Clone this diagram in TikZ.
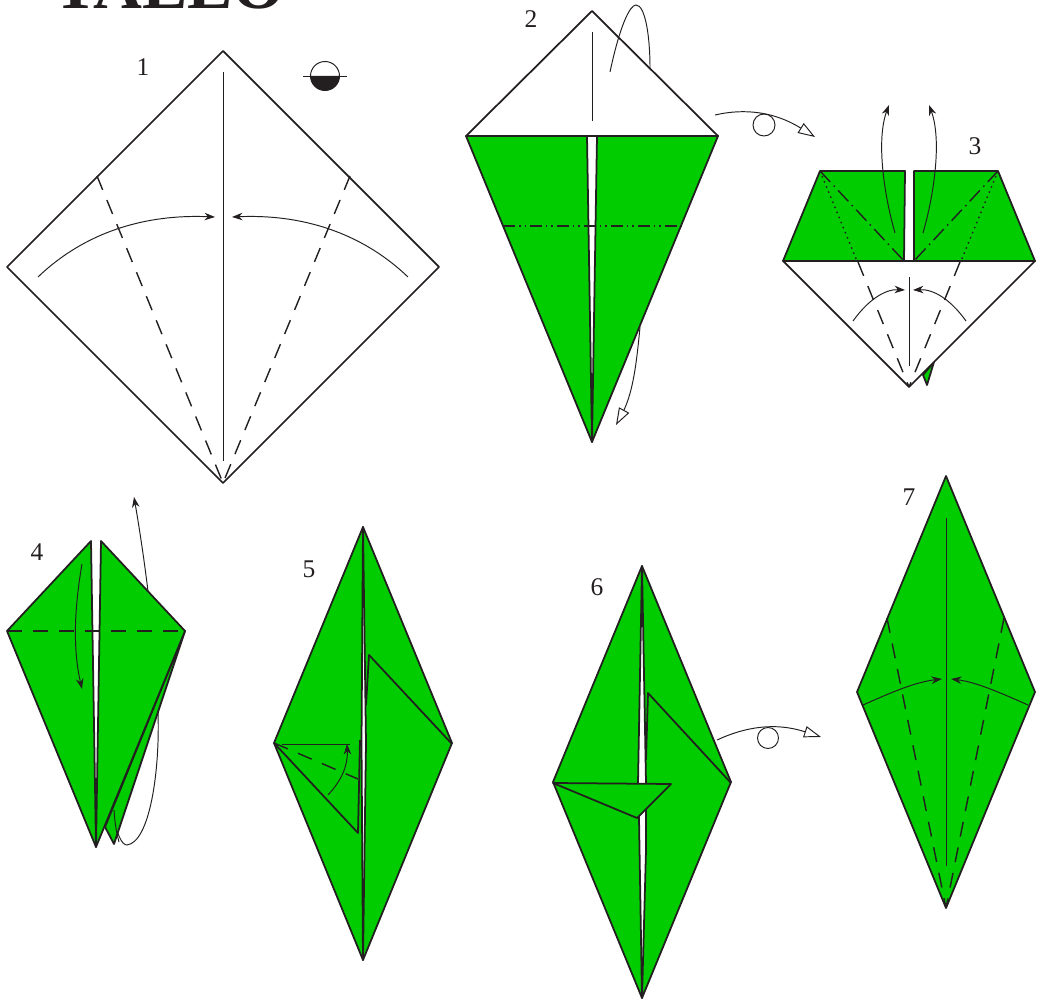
\documentclass[tikz,border=0pt]{standalone}
\usepackage{fontspec}
\setmainfont{Liberation Serif}
\usetikzlibrary{arrows.meta}
\definecolor{FoldGreen}{HTML}{00CC00}
\definecolor{Ink}{HTML}{231F20}
\tikzset{
  sheet/.style={draw=Ink, line width=1pt, line join=round, fill=white},
  flap/.style={draw=Ink, line width=1pt, line join=round, fill=FoldGreen},
  edge/.style={draw=Ink, line width=1pt, line join=round},
  thin line/.style={draw=Ink, line width=0.55pt},
  valley/.style={draw=Ink, line width=0.8pt, dash pattern=on 0.3cm off 0.22cm},
  mountain/.style={draw=Ink, line width=0.8pt, dash pattern=on 0.3cm off 0.1cm on 0.03cm off 0.1cm},
  mountaintwo/.style={draw=Ink, line width=0.8pt, dash pattern=on 0.24cm off 0.08cm on 0.03cm off 0.08cm on 0.03cm off 0.08cm},
  dots/.style={draw=Ink, line width=0.8pt, dash pattern=on 0.03cm off 0.08cm},
  foldarrow/.style={-{Stealth[length=2.1mm, width=1.5mm]}, thin line},
  turnarrow/.style={-{Triangle[open, fill=white, length=3.4mm, width=2.3mm]}, thin line},
  steplab/.style={font=\fontsize{14.5}{16}\selectfont, text=Ink, inner sep=0pt},
}

\begin{document}
\begin{tikzpicture}[x=0.02cm, y=-0.02cm]
    \useasboundingbox (0,0) rectangle (1038,999);
    \node[font=\fontsize{38.5}{42}\selectfont\bfseries, text=Ink, anchor=base, inner sep=0pt] (title) at (169.5,9) {TALLO};
    % step 1
    \draw[sheet] (223,51) -- (439,267) -- (223,483) -- (7,267) -- cycle;
    \draw[thin line] (223,72) -- (223,461);
    \draw[valley] (97,176) -- (223,483);
    \draw[valley] (350,176) -- (223,483);
    \draw[foldarrow] (38,277) .. controls (85,232) and (145,214) .. (215,217);
    \draw[foldarrow] (408,277) .. controls (361,232) and (301,214) .. (232,217);
    \node[steplab] (lab1) at (143,67) {1};
    \fill[Ink] (310.5,76) arc (180:0:14.5) -- cycle;
    \draw[thin line] (325,76) circle (14.5);
    \draw[thin line] (303,76) -- (347,76);
    % step 2
    \draw[turnarrow] (640,327) .. controls (636,370) and (632,395) .. (622,414) -- (616,425);
    \draw[sheet] (466,136) -- (592,11) -- (718,136) -- cycle;
    \draw[flap] (466,136) -- (587,136) -- (592,442) -- cycle;
    \draw[flap] (718,136) -- (597,136) -- (592,442) -- cycle;
    \draw[thin line] (592,32) -- (592,121);
    \draw[mountaintwo] (503,226) -- (682,226);
    \draw[thin line] (610,72) .. controls (620,25) and (630,5) .. (636,5) .. controls (645,5) and (650,35) .. (650,68);
    \draw[turnarrow] (715,115) .. controls (745,108) and (775,112) .. (815,137);
    \draw[thin line] (764,125) circle (11);
    \node[steplab] (lab2) at (531,19) {2};
    % step 3
    \draw[flap] (934,362) -- (923,375) -- (927,385) -- cycle;
    \draw[sheet] (783,261) -- (1035,261) -- (909,387) -- cycle;
    \draw[flap] (820,171) -- (905,171) -- (904,261) -- (783,261) -- cycle;
    \draw[flap] (998,171) -- (914,171) -- (914,261) -- (1035,261) -- cycle;
    \draw[thin line] (909,277) -- (909,366);
    \draw[mountain] (820,171) -- (904,261);
    \draw[mountain] (998,171) -- (914,261);
    \draw[dots] (820,171) -- (857,261);
    \draw[dots] (998,171) -- (961,261);
    \draw[valley] (858,262) -- (909,387);
    \draw[valley] (960,262) -- (909,387);
    \draw[foldarrow] (895,233) .. controls (884,195) and (876,140) .. (889,105);
    \draw[foldarrow] (923,233) .. controls (934,195) and (942,140) .. (929,105);
    \draw[foldarrow] (853,321) .. controls (868,300) and (885,289) .. (905,290);
    \draw[foldarrow] (966,321) .. controls (951,300) and (934,289) .. (913,290);
    \node[steplab] (lab3) at (975,146) {3};
    % step 4
    \draw[foldarrow] (114,810) .. controls (116,835) and (122,845) .. (127,845) .. controls (150,842) and (160,770) .. (158,713) .. controls (157,670) and (150,590) .. (134,497);
    \draw[flap] (185,631) -- (114,844) -- (105,827) -- cycle;
    \draw[flap] (7,631) -- (91,541) -- (96,847) -- cycle;
    \draw[flap] (101,541) -- (185,631) -- (96,847) -- cycle;
    \draw[valley] (7,631) -- (185,631);
    \draw[foldarrow] (82,564) .. controls (74,610) and (73,650) .. (82,689);
    \draw[thin line] (114,810) .. controls (115,825) and (117,835) .. (119,842);
    \node[steplab] (lab4) at (37,552) {4};
    % step 5
    \draw[flap] (274,743) -- (363,527) -- (361.5,743) -- (363,960) -- cycle;
    \draw[flap] (452,743) -- (363,527) -- (366,743) -- (363,960) -- cycle;
    \draw[edge] (366,705) -- (369,655) -- (452,744);
    \draw[edge] (274,743) -- (358,833) -- (360,740);
    \draw[thin line] (282,744) -- (350,744);
    \draw[valley] (274,743) -- (358,779);
    \draw[foldarrow] (328,795) .. controls (342,780) and (348,765) .. (347,744);
    \node[steplab] (lab5) at (309,569) {5};
    % step 6
    \draw[flap] (553,782) -- (642,566) -- (638,783) -- (639,818) -- (642,998) -- cycle;
    \draw[flap] (731,782) -- (642,566) -- (646,783) -- (646,850) -- (642,998) -- cycle;
    \draw[edge] (646,760) -- (648,693) -- (731,783);
    \draw[flap] (553,783) -- (671,784) -- (637,818) -- cycle;
    \draw[turnarrow] (717,740) .. controls (745,727) and (775,722) .. (821,737);
    \draw[thin line] (768,738) circle (10.5);
    \node[steplab] (lab6) at (597,587) {6};
    % step 7
    \draw[flap] (946,476) -- (1035,692) -- (946,908) -- (857,692) -- cycle;
    \draw[thin line] (946,518) -- (946,866);
    \draw[valley] (887,618) -- (946,908);
    \draw[valley] (1004,618) -- (946,908);
    \draw[foldarrow] (863,705) .. controls (890,693) and (915,682) .. (942,679);
    \draw[foldarrow] (1028,705) .. controls (1001,693) and (976,682) .. (951,679);
    \node[steplab] (lab7) at (909,497) {7};
  \end{tikzpicture}
\end{document}
